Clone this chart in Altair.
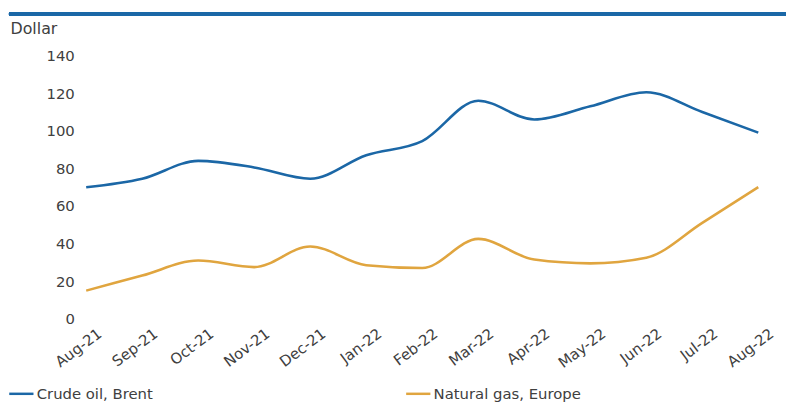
import altair as alt
import pandas as pd

months = ["Aug-21", "Sep-21", "Oct-21", "Nov-21", "Dec-21", "Jan-22", "Feb-22",
          "Mar-22", "Apr-22", "May-22", "Jun-22", "Jul-22", "Aug-22"]
brent = [70, 74.5, 84, 80.5, 74.5, 87, 94.5, 116, 106, 113, 120.5, 110, 99]
gas = [15, 23, 31, 27.5, 38.5, 28.5, 27, 42.5, 31.5, 29.5, 32.5, 51, 70]
series_names = ["Crude oil, Brent", "Natural gas, Europe"]
series_colors = ["#1b67a6", "#e0a53f"]
y_ticks = [0, 20, 40, 60, 80, 100, 120, 140]

rows = []
for m, v in zip(months, brent):
    rows.append({"month": m, "value": v, "series": series_names[0]})
for m, v in zip(months, gas):
    rows.append({"month": m, "value": v, "series": series_names[1]})
df = pd.DataFrame(rows)

FONT = "DejaVu Sans"
TXT = "#404040"

lines = alt.Chart(df).mark_line(interpolate="monotone", strokeWidth=2.6).encode(
    x=alt.X("month:N", sort=months, scale=alt.Scale(padding=0),
            axis=alt.Axis(title=None, labelAngle=-37, labelFont=FONT, labelFontSize=15,
                          labelColor=TXT, ticks=False, domain=False, labelPadding=7,
                          labelOffset=9)),
    y=alt.Y("value:Q", scale=alt.Scale(domain=[0, 140], nice=False),
            axis=alt.Axis(values=y_ticks, title="Dollar", titleAngle=0, titleX=-77,
                          titleY=-27, titleAlign="left", titleBaseline="middle",
                          titleFont=FONT, titleFontSize=16, titleFontWeight="normal",
                          titleColor=TXT, labelFont=FONT, labelFontSize=15,
                          labelColor=TXT, ticks=False, domain=False, grid=False,
                          labelPadding=12)),
    color=alt.Color("series:N", sort=series_names,
                    scale=alt.Scale(domain=series_names, range=series_colors),
                    legend=alt.Legend(title=None, orient="none", legendX=-79, legendY=328,
                                      direction="horizontal", symbolType="stroke",
                                      symbolStrokeWidth=2.5, symbolSize=600,
                                      labelFont=FONT, labelFontSize=15, labelColor=TXT,
                                      labelOffset=2, columnPadding=250, padding=0)),
)

top_rule = alt.Chart(df).mark_rule(color="#1b67a6", strokeWidth=2.5).encode(
    x=alt.value(-78), x2=alt.value(707), y=alt.value(-42)
)

chart = alt.layer(top_rule, lines).properties(
    width=679, height=266,
    autosize=alt.AutoSizeParams(type="none"),
    padding={"left": 79, "top": 46, "right": 28, "bottom": 84},
).configure_view(stroke=None)

chart.save("out.html", embed_options={"renderer": "svg", "actions": False})
